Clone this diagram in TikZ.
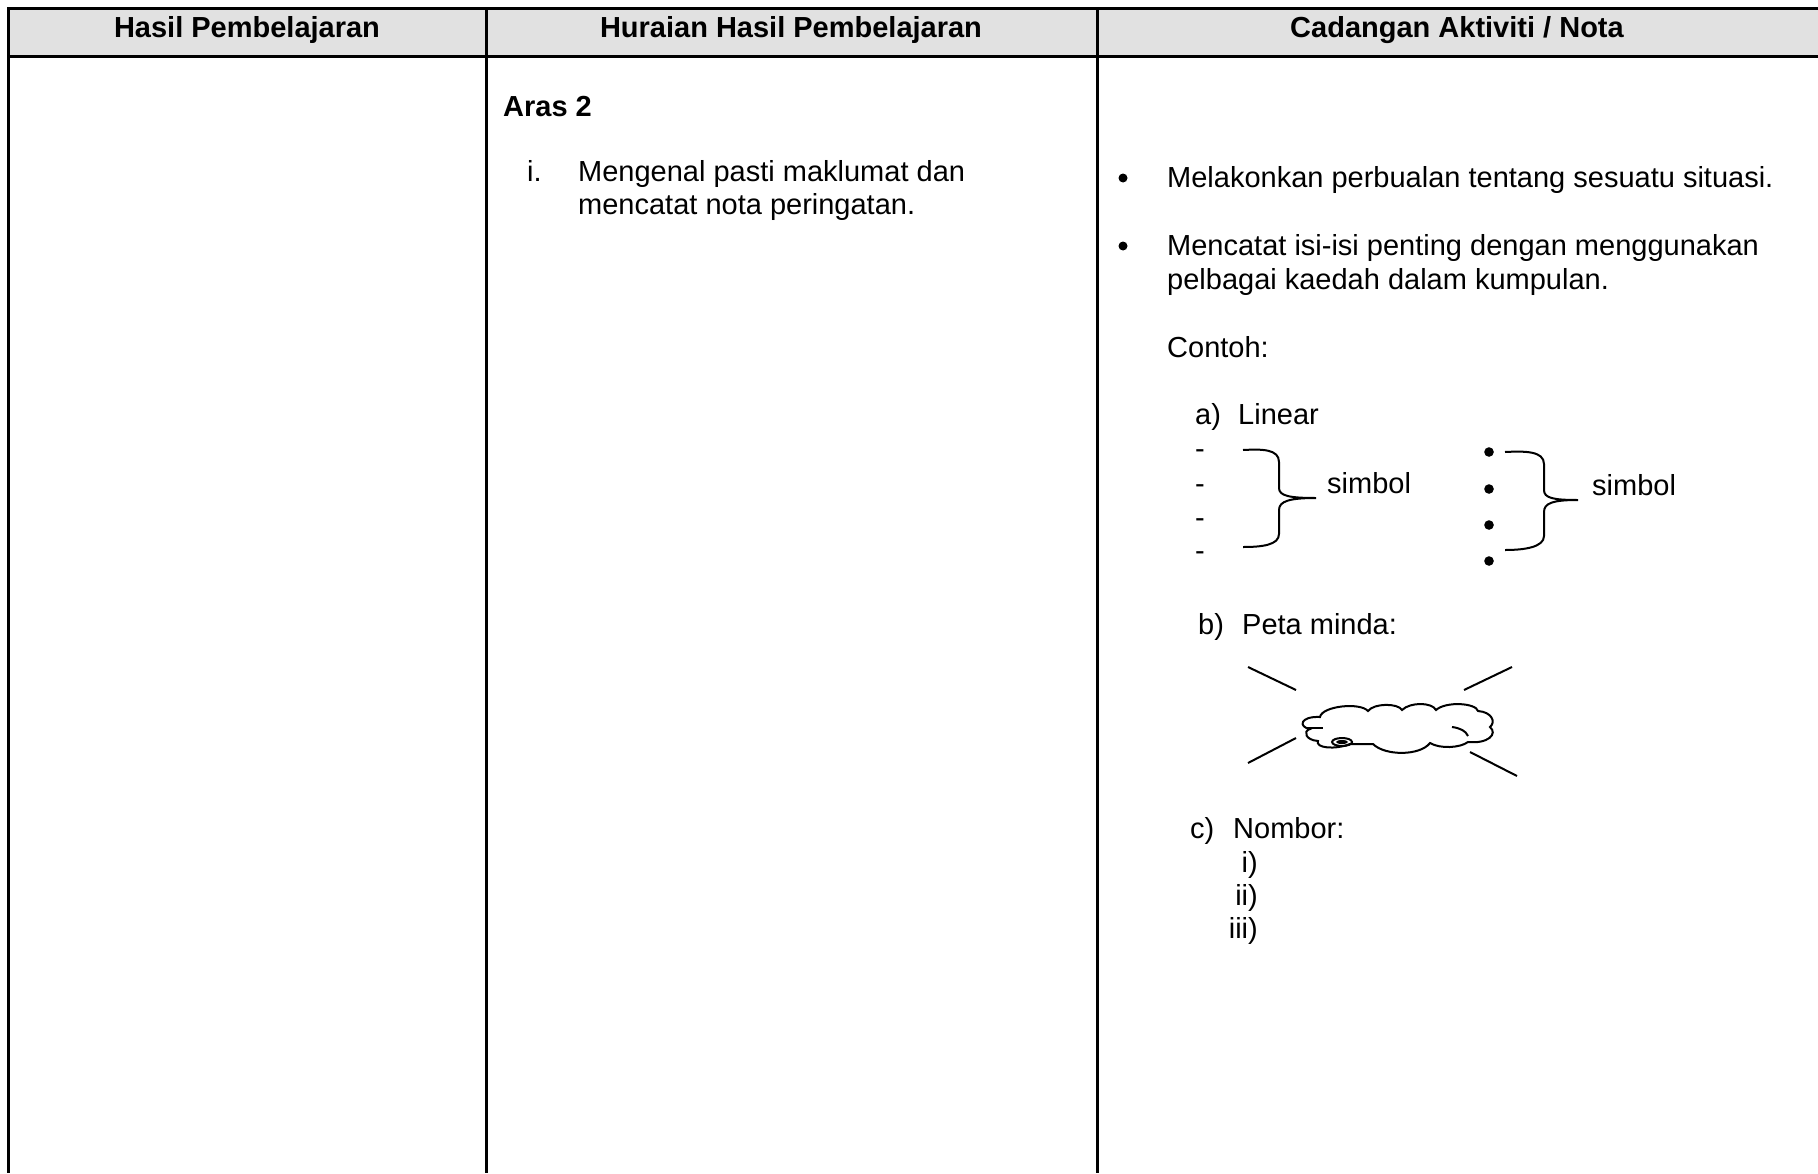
\documentclass[tikz,border=0pt]{standalone}
\usepackage{fontspec}
\setmainfont{Liberation Sans}
\definecolor{hdrgray}{HTML}{E1E1E1}
\begin{document}
\begin{tikzpicture}[x=1pt,y=-1pt,
  txt/.style={font=\fontsize{29}{34}\selectfont, inner sep=0pt, anchor=base west},
  hdr/.style={font=\fontsize{29}{34}\selectfont\bfseries, inner sep=0pt, anchor=base},
  rule/.style={line width=3pt},
  pen/.style={line width=2pt},
  dot/.style={fill=black}]
\useasboundingbox (0,0) rectangle (1818,1173);
% table
\fill[hdrgray] (9,9) rectangle (1818,56);
\draw[rule] (7,8.5) -- (1818,8.5);
\draw[rule] (7,56) -- (1818,56);
\draw[rule] (8.5,7) -- (8.5,1173);
\draw[rule] (486,7) -- (486,1173);
\draw[rule] (1097,7) -- (1097,1173);
% headers
\node[hdr] (h1) at (247,37.5) {Hasil Pembelajaran};
\node[hdr] (h2) at (791,37.5) {Huraian Hasil Pembelajaran};
\node[hdr] (h3) at (1457,37.5) {Cadangan Aktiviti / Nota};
% column 2
\node[txt] (aras) at (503,116) {\bfseries Aras 2};
\node[txt] (inum) at (527,181) {i.};
\node[txt] (hl1) at (578,181) {Mengenal pasti maklumat dan};
\node[txt] (hl2) at (578,214) {mencatat nota peringatan.};
% column 3
\fill[dot] (1123,178) circle (4.5);
\node[txt] (b1) at (1167,187) {Melakonkan perbualan tentang sesuatu situasi.};
\fill[dot] (1123,246) circle (4.5);
\node[txt] (b2a) at (1167,255) {Mencatat isi-isi penting dengan menggunakan};
\node[txt] (b2b) at (1167,289) {pelbagai kaedah dalam kumpulan.};
\node[txt] (contoh) at (1167,357) {Contoh:};
\node[txt] (la) at (1195,424) {a)};
\node[txt] (linear) at (1238,424) {Linear};
\node[txt] (d1) at (1195,458) {-};
\node[txt] (d2) at (1195,493) {-};
\node[txt] (d3) at (1195,527) {-};
\node[txt] (d4) at (1195,560) {-};
\draw[pen] (1243,450) .. controls (1262,449) and (1279,449) .. (1279,462) -- (1279,488)
  .. controls (1279,496) and (1290,498) .. (1316,498)
  .. controls (1290,498) and (1279,501) .. (1279,510) -- (1279,534)
  .. controls (1279,545) and (1262,547) .. (1243,547);
\node[txt] (sym1) at (1327,493) {simbol};
\fill[dot] (1489,452) circle (4.8);
\fill[dot] (1489,489) circle (4.8);
\fill[dot] (1489,525) circle (4.8);
\fill[dot] (1489,561) circle (4.8);
\draw[pen] (1505,452) .. controls (1525,451) and (1544,451) .. (1544,464) -- (1544,490)
  .. controls (1544,498) and (1553,500) .. (1578,500)
  .. controls (1553,500) and (1544,503) .. (1544,512) -- (1544,536)
  .. controls (1544,547) and (1525,550) .. (1505,550);
\node[txt] (sym2) at (1592,495) {simbol};
\node[txt] (lb) at (1198,634) {b)};
\node[txt] (peta) at (1242,634) {Peta minda:};
% mind map
\draw[pen] (1248,667) -- (1296,690);
\draw[pen] (1464,690) -- (1512,667);
\draw[pen] (1248,763) -- (1296,738);
\draw[pen] (1470,752) -- (1517,776);
\draw[pen] (1320,717) .. controls (1322,706) and (1360,702) .. (1368,711)
  .. controls (1374,703) and (1398,703) .. (1402,710)
  .. controls (1410,702) and (1432,702) .. (1436,710)
  .. controls (1446,701) and (1476,703) .. (1478,711)
  .. controls (1492,712) and (1496,722) .. (1490,727)
  .. controls (1498,734) and (1488,744) .. (1468,742)
  .. controls (1460,748) and (1440,749) .. (1430,743)
  .. controls (1420,756) and (1385,756) .. (1373,744)
  -- (1350,744)
  .. controls (1335,750) and (1315,748) .. (1318,741)
  .. controls (1305,740) and (1303,731) .. (1310,729)
  .. controls (1298,727) and (1300,716) .. (1320,717) -- cycle;
\draw[pen] (1307,728) -- (1323,728);
\draw[pen] (1452,727) .. controls (1460,728) and (1466,731) .. (1468,736);
\draw[pen] (1342,742) ellipse [x radius=10, y radius=4];
\fill (1342,742) ellipse [x radius=6, y radius=2];
\node[txt] (lc) at (1190,838) {c)};
\node[txt] (nombor) at (1233,838) {Nombor:};
\node[txt, anchor=base east] (r1) at (1258,872) {i)};
\node[txt, anchor=base east] (r2) at (1258,905) {ii)};
\node[txt, anchor=base east] (r3) at (1258,938) {iii)};
\end{tikzpicture}
\end{document}
